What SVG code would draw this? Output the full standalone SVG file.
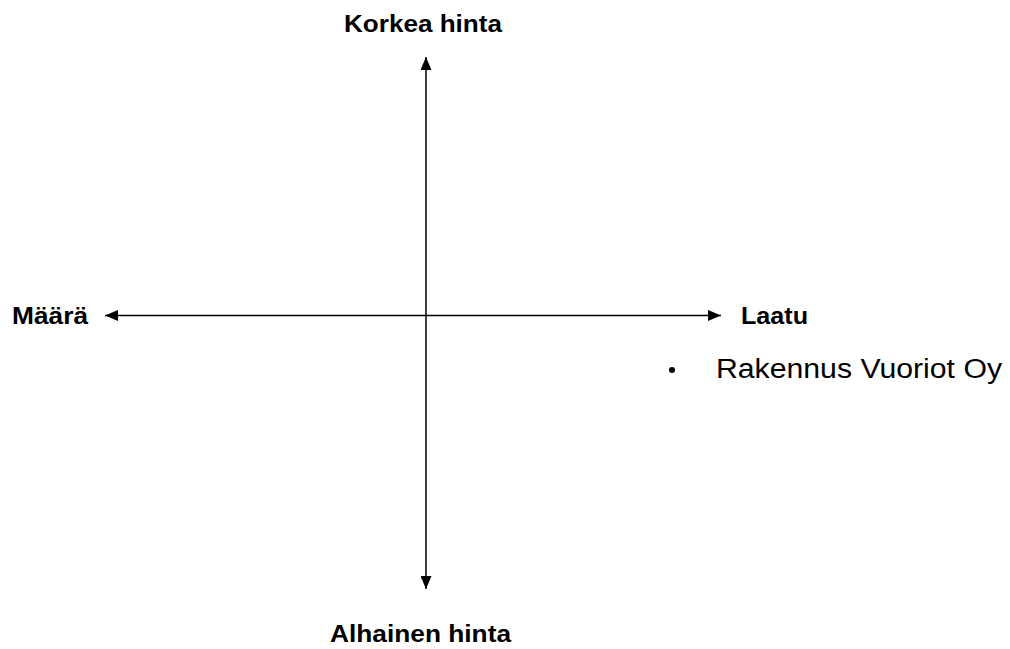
<svg xmlns="http://www.w3.org/2000/svg" width="1010" height="649" viewBox="0 0 1010 649">
<style>
.lbl{font-family:"Liberation Sans",Arial,sans-serif;font-weight:bold;font-size:24px;fill:#000}
.txt{font-family:"Liberation Sans",Arial,sans-serif;font-size:27px;fill:#000}
.ax{stroke:#000;stroke-width:1.5;fill:none}
</style>
<defs>
<marker id="ah" viewBox="0 0 13 11" refX="13" refY="5.5" markerWidth="13" markerHeight="11" markerUnits="userSpaceOnUse" orient="auto-start-reverse">
<path d="M0,0 L13,5.5 L0,11 Z" fill="#000"/>
</marker>
</defs>
<rect width="1010" height="649" fill="#fff"/>
<g id="connectors">
<line class="ax" x1="426" y1="589" x2="426" y2="57" marker-start="url(#ah)" marker-end="url(#ah)"/>
<line class="ax" x1="105" y1="315.5" x2="721" y2="315.5" marker-start="url(#ah)" marker-end="url(#ah)"/>
</g>
<g id="top"><text class="lbl" x="344" y="32" textLength="158" lengthAdjust="spacingAndGlyphs">Korkea hinta</text></g>
<g id="left"><text class="lbl" x="12" y="324" textLength="76" lengthAdjust="spacingAndGlyphs">Määrä</text></g>
<g id="right"><text class="lbl" x="741" y="324" textLength="67" lengthAdjust="spacingAndGlyphs">Laatu</text></g>
<g id="bottom"><text class="lbl" x="330" y="642" textLength="181" lengthAdjust="spacingAndGlyphs">Alhainen hinta</text></g>
<g id="item">
<circle cx="672" cy="370" r="3" fill="#000"/>
<text class="txt" x="716" y="378" textLength="286" lengthAdjust="spacingAndGlyphs">Rakennus Vuoriot Oy</text>
</g>
</svg>
